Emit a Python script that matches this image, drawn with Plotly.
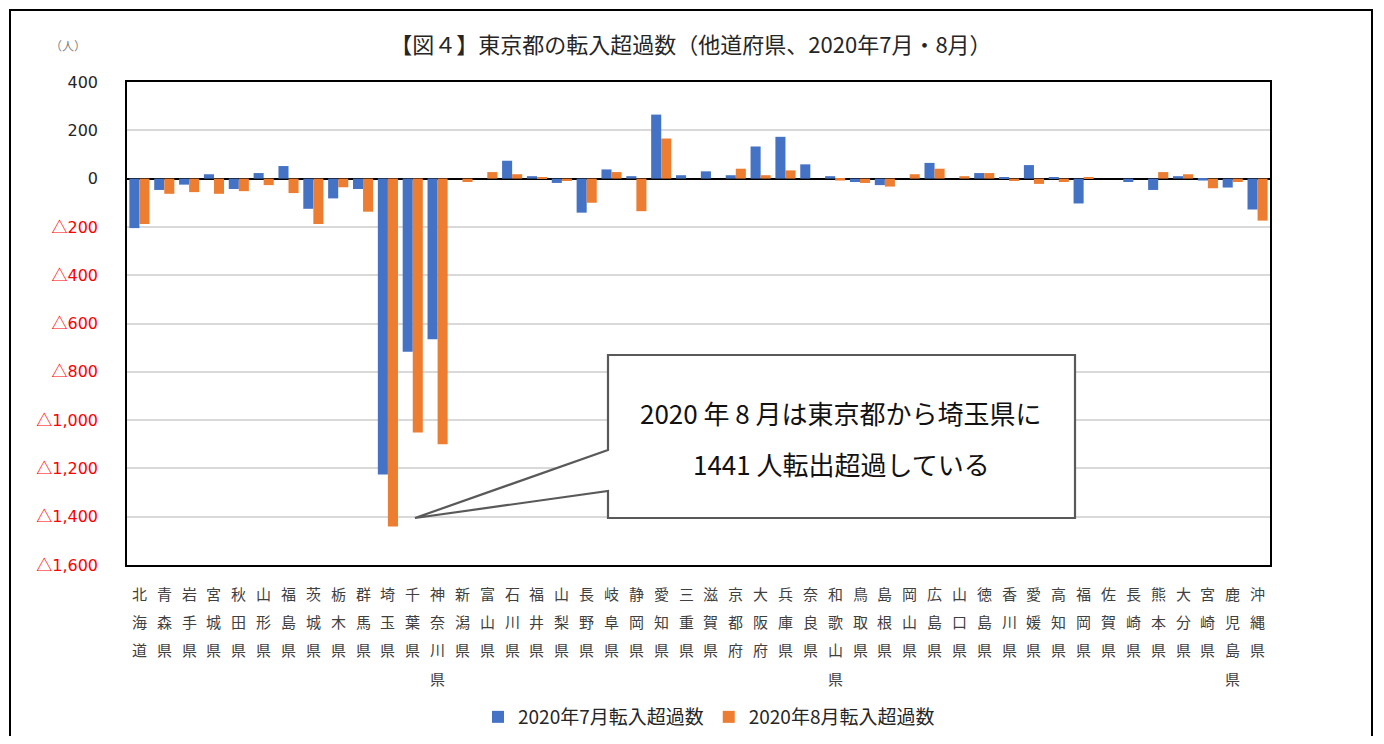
import plotly.graph_objects as go

# ---------------- data ----------------
prefectures = ["北海道", "青森県", "岩手県", "宮城県", "秋田県", "山形県", "福島県", "茨城県", "栃木県", "群馬県",
               "埼玉県", "千葉県", "神奈川県", "新潟県", "富山県", "石川県", "福井県", "山梨県", "長野県", "岐阜県",
               "静岡県", "愛知県", "三重県", "滋賀県", "京都府", "大阪府", "兵庫県", "奈良県", "和歌山県", "鳥取県",
               "島根県", "岡山県", "広島県", "山口県", "徳島県", "香川県", "愛媛県", "高知県", "福岡県", "佐賀県",
               "長崎県", "熊本県", "大分県", "宮崎県", "鹿児島県", "沖縄県"]

july = [-205, -47, -25, 18, -43, 23, 52, -125, -82, -43,
        -1225, -717, -665, 0, 0, 74, 10, -18, -141, 38,
        10, 265, 14, 30, 14, 133, 173, 59, 10, -14,
        -27, 0, 65, 0, 23, 5, 56, 5, -103, 0,
        -14, -47, 10, -8, -37, -128]

august = [-188, -63, -56, -63, -52, -27, -60, -188, -36, -137,
          -1441, -1051, -1100, -14, 27, 18, 5, -10, -100, 27,
          -135, 166, 0, 0, 41, 14, 34, 0, -8, -18,
          -33, 18, 41, 10, 23, -10, -22, -14, 5, 0,
          0, 27, 18, -40, -14, -174]

series_names = ["2020年7月転入超過数", "2020年8月転入超過数"]
y_tick_values = [400, 200, 0, -200, -400, -600, -800, -1000, -1200, -1400, -1600]
y_tick_labels = ["400", "200", "0", "△200", "△400", "△600", "△800", "△1,000", "△1,200", "△1,400", "△1,600"]

title_text = "【図４】東京都の転入超過数（他道府県、2020年7月・8月）"
unit_text = "（人）"
callout_lines = ["2020 年 8 月は東京都から埼玉県に", "1441 人転出超過している"]

# ---------------- layout geometry (screen pixels; page body has an 8px margin) ----------------
OFF = 8
W, H = 1384 - 2 * OFF, 744 - 2 * OFF
L, R, T, B = 127 - OFF, 1270 - OFF, 82 - OFF, 565 - OFF
PW, PH = R - L, B - T


def px(x):
    return (x - OFF - L) / PW


def py(y):
    return (B - (y - OFF)) / PH


JP = "Noto Sans CJK JP"

fig = go.Figure()
fig.add_trace(go.Bar(x=prefectures, y=july, name=series_names[0],
                     marker=dict(color="#4472C4", line=dict(width=0))))
fig.add_trace(go.Bar(x=prefectures, y=august, name=series_names[1],
                     marker=dict(color="#ED7D31", line=dict(width=0))))

ticktext = []
for v, t in zip(y_tick_values, y_tick_labels):
    if v < 0:
        num = t.replace("△", "")
        ticktext.append('<span style="color:#FF0000"><span style="font-family:Noto Sans CJK JP">△</span>'
                        + num + '</span>')
    else:
        ticktext.append(t)

annotations = []
# vertical category labels (one character per row)
for name in prefectures:
    for i, ch in enumerate(name):
        annotations.append(dict(
            x=name, xref="x", y=0, yref="paper", yshift=-28 - 28.4 * i,
            text=ch, showarrow=False, xanchor="center", yanchor="middle",
            font=dict(family=JP, size=15, color="#404040")))

# unit label
annotations.append(dict(x=px(68), y=py(45), xref="paper", yref="paper", text=unit_text,
                        showarrow=False, xanchor="center", yanchor="middle",
                        font=dict(family=JP, size=12, color="#7F7F7F")))
# callout text
annotations.append(dict(x=px(841), y=py(412), xref="paper", yref="paper", text=callout_lines[0],
                        showarrow=False, xanchor="center", yanchor="middle",
                        font=dict(family=JP, size=26, color="#111111")))
annotations.append(dict(x=px(841), y=py(463), xref="paper", yref="paper", text=callout_lines[1],
                        showarrow=False, xanchor="center", yanchor="middle",
                        font=dict(family=JP, size=26, color="#111111")))

# callout box with pointer
pts = [(608, 355), (1075, 355), (1075, 518), (608, 518), (608, 491), (415, 518), (608, 450)]
path = "M " + " L ".join(f"{px(a):.5f},{py(b):.5f}" for a, b in pts) + " Z"
shapes = [
    dict(type="path", xref="paper", yref="paper", path=path,
         line=dict(color="#595959", width=2.2), fillcolor="white", layer="above"),
    dict(type="rect", xref="paper", yref="paper", x0=px(10), x1=px(1372), y0=py(800), y1=py(10),
         line=dict(color="black", width=2), fillcolor="rgba(0,0,0,0)", layer="below"),
]

fig.update_layout(
    width=W, height=H,
    margin=dict(l=L, r=W - R, t=T, b=H - B, autoexpand=False),
    paper_bgcolor="white", plot_bgcolor="white",
    barmode="group", bargap=0.19, bargroupgap=0,
    title=dict(text=title_text, x=(691 - OFF) / W, xanchor="center", y=1 - (45 - OFF) / H, yanchor="middle",
               font=dict(family=JP, size=22, color="#262626")),
    showlegend=True,
    legend=dict(orientation="h", x=px(709), xanchor="center", y=py(717), yanchor="middle",
                font=dict(family=JP, size=19, color="#262626"), itemwidth=30,
                tracegroupgap=0, bgcolor="rgba(0,0,0,0)"),
    xaxis=dict(showticklabels=False, showgrid=False, showline=True, mirror=True,
               linecolor="black", linewidth=1.5, ticks=""),
    yaxis=dict(range=[-1600, 400], tickvals=y_tick_values, ticktext=ticktext,
               showgrid=True, gridcolor="#D9D9D9", gridwidth=1.5,
               zeroline=True, zerolinecolor="black", zerolinewidth=1.5,
               showline=True, mirror=True, linecolor="black", linewidth=1.5,
               ticks="", ticklabelstandoff=24,
               tickfont=dict(family="DejaVu Sans", size=16, color="#262626")),
    annotations=annotations,
    shapes=shapes,
)

fig.write_html("out.html")
